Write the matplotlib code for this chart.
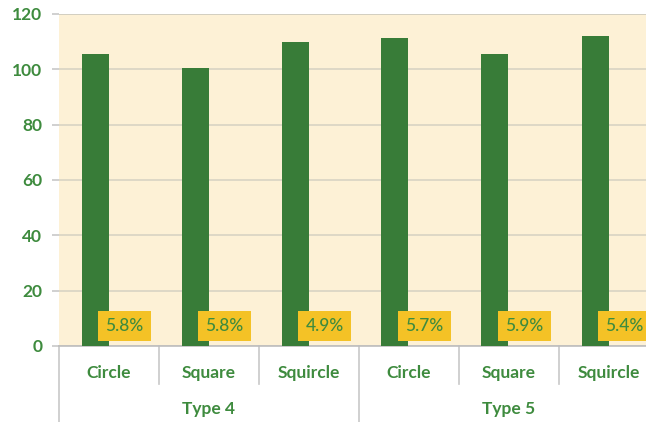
import matplotlib.pyplot as plt
import matplotlib.transforms as mtransforms

shapes = ["Circle", "Square", "Squircle", "Circle", "Square", "Squircle"]
groups = ["Type 4", "Type 5"]
values = [105.5, 100.5, 110, 111.3, 105.5, 112]
pct_labels = ["5.8%", "5.8%", "4.9%", "5.7%", "5.9%", "5.4%"]
yticks = [0, 20, 40, 60, 80, 100, 120]

bar_color = "#387C38"
text_green = "#3E8B3E"
bg_color = "#FDF1D6"
gold = "#F4C226"

plt.rcParams["font.family"] = ["Lato", "DejaVu Sans"]

fig = plt.figure(figsize=(6.46, 4.22), dpi=100)
ax = fig.add_axes([59 / 646, 76 / 422, 600 / 646, 332 / 422])
ax.set_facecolor(bg_color)

x = list(range(len(values)))
ax.bar([i - 0.14 for i in x], values, width=0.27, color=bar_color, zorder=3)

# percentage boxes
for i, s in enumerate(pct_labels):
    ax.text(i + 0.155, 7.2, s, ha="center", va="center", fontsize=12.5,
            color=text_green, fontweight="medium", zorder=4,
            bbox=dict(boxstyle="square,pad=0.42", facecolor=gold, edgecolor="none"))

ax.set_xlim(-0.5, 5.5)
ax.set_ylim(0, 120)
ax.set_yticks(yticks)
ax.set_yticklabels([str(v) for v in yticks], fontsize=12.5, fontweight="bold", color=text_green)
ax.tick_params(axis="y", length=5, color="#C8C8C8", width=1.2, pad=7)
ax.set_xticks([])
ax.grid(axis="y", color="#D8D3C3", linewidth=1.2, zorder=0)
for sp in ["left", "right", "top"]:
    ax.spines[sp].set_visible(False)
ax.spines["bottom"].set_color("#BDBDBD")
ax.spines["bottom"].set_linewidth(1.2)
ax.axhline(120, color="#BDBDBD", linewidth=1.4, zorder=1)

# category axis with two levels
trans = mtransforms.blended_transform_factory(ax.transData, ax.transAxes)
px = 1 / 332
for i, s in enumerate(shapes):
    ax.text(i, -27 * px, s, transform=trans, ha="center", va="center",
            fontsize=12.5, fontweight="bold", color=text_green)
for g, name in enumerate(groups):
    ax.text(g * 3 + 1, -63 * px, name, transform=trans, ha="center", va="center",
            fontsize=12.5, fontweight="bold", color=text_green)
for b in [0.5, 1.5, 3.5, 4.5]:
    ax.plot([b, b], [0, -38 * px], transform=trans, color="#C8C8C8",
            linewidth=1.2, clip_on=False)
for b in [-0.5, 2.5, 5.5]:
    ax.plot([b, b], [0, -80 * px], transform=trans, color="#C8C8C8",
            linewidth=1.2, clip_on=False)

fig.savefig("out.png", dpi=100)
